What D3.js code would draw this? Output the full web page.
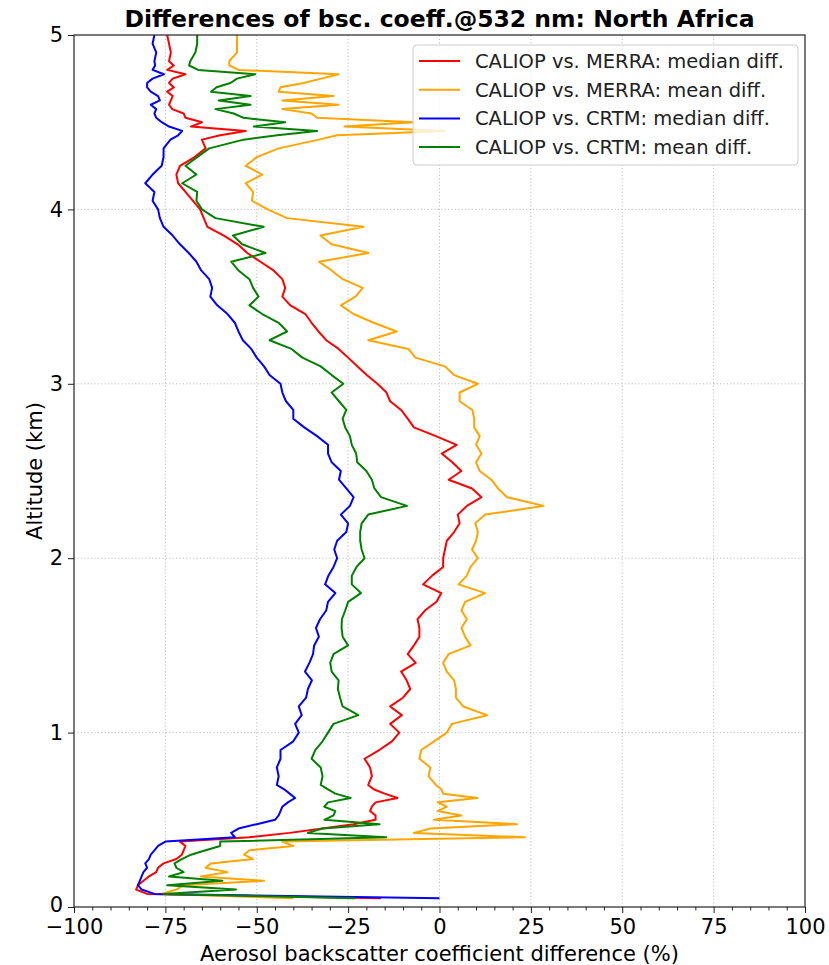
<!DOCTYPE html>
<html><head><meta charset="utf-8">
<script src="https://cdn.jsdelivr.net/npm/d3@7"></script>
<style>body{margin:0;background:#fff} text{font-family:"DejaVu Sans",sans-serif}</style>
</head><body><svg id="chart" width="829" height="965"></svg>
<script>
// altitude levels (km)
const altitudes = [
 0.05,0.075,0.1,0.125,0.15,0.175,0.2,0.225,0.25,0.275,
 0.3,0.325,0.35,0.375,0.4,0.425,0.45,0.475,0.5,0.525,
 0.55,0.575,0.6,0.625,0.65,0.675,0.7,
 0.75,0.8,0.85,0.9,0.95,1,1.05,1.1,1.15,1.2,
 1.25,1.3,1.35,1.4,1.45,1.5,1.55,1.6,1.65,1.7,
 1.75,1.8,1.85,1.9,1.95,2,2.05,2.1,2.15,2.2,
 2.25,2.3,2.35,2.4,2.45,2.5,2.55,2.6,2.65,2.7,
 2.75,2.8,2.85,2.9,2.95,3,3.05,3.1,3.15,3.2,
 3.25,3.3,3.35,3.4,3.45,3.5,3.55,3.6,3.65,3.7,
 3.75,3.8,3.85,3.9,3.95,4,4.05,4.1,4.15,4.2,
 4.25,4.3,4.35,4.4,
 4.425,4.45,4.475,4.5,4.525,4.55,4.575,4.6,4.625,4.65,
 4.675,4.7,4.725,4.75,4.775,4.8,4.825,4.85,
 4.9,4.95,5.0];

// CALIOP vs. MERRA: median diff. (%)
const merraMedian = [
 -16,-80,-83,-82.5,-81,-79.5,-77.5,-77,-75.5,-72,
 -70.5,-70,-69.5,-71,-52,-41,-32,-23.5,-17.5,-17.5,
 -19,-18.5,-17.5,-11.5,-15,-18,-19.5,
 -18.5,-19,-20.5,-16.5,-13,-11,-13.5,-10.3,-13.5,-10,
 -8,-9,-10.5,-6.5,-8.7,-7,-5.5,-5.5,-6,-4,
 -0.8,0.5,-4.5,-2,1,1,1.5,2,4,5.5,
 5,7.5,11.5,8.9,2.5,6,3.5,0.6,4.7,-1,
 -7,-8.7,-10.5,-13.5,-14.5,-17,-19.9,-22.5,-25,-27.6,
 -31,-33.1,-35,-36.7,-40.8,-43,-42.2,-43,-45.4,-49,
 -52.6,-55.2,-59,-63.5,-64.5,-65.5,-67.5,-69.5,-71.5,-72,
 -71,-67,-64,-65,
 -60,-53,-68,-65,-69.5,-70,-73.1,-74,-73.5,-73,
 -74.5,-72.7,-74,-73,-69.5,-74.5,-72.7,-74,
 -73.5,-74,-74.5];

// CALIOP vs. MERRA: mean diff. (%)
const merraMean = [
 -40,-76,-72,-70,-48,-65.3,-58,-64,-62.5,-51,
 -53.5,-52,-40,-43,23.4,-7,-2.5,21.2,-1.5,6,
 -0.5,2,-0.5,10.4,1,0.5,-1,
 -3,-2.5,-5.5,-5,-1.5,2,3.4,13,6.5,4.5,
 4.5,4,2,1,2.5,8.5,7,6,7.5,6,
 7,12.5,5.2,7.5,8.5,10.5,8.9,10,10.5,9.8,
 12.5,28.5,18.5,16,14.2,11,10,11.5,10,11,
 9.5,9.5,9,5.5,5.5,10.5,4,1.5,-6.6,-8.5,
 -19.5,-11.7,-18,-23.5,-27,-23,-21,-26.5,-29.5,-33,
 -19.4,-29.5,-32.6,-20.8,-41.7,-47,-51.3,-51,-53,-48.5,
 -53,-50,-44,-33,
 -28,1.5,-26,-7,-33.5,-35,-43,-27.6,-43,-29,
 -44,-43.5,-37.2,-32.4,-27.6,-55,-57.5,-57.5,
 -55.4,-55.4,-55.4];

// CALIOP vs. CRTM: median diff. (%)
const crtmMedian = [
 0,-78,-81.5,-82.5,-82,-81.5,-81,-80,-80.5,-79.5,
 -79,-78,-77,-75,-56,-57,-55,-50,-45,-44,
 -43.5,-43,-41.5,-39.5,-41,-42.5,-44.5,
 -44,-44.5,-43.5,-43.5,-40,-38.5,-39.5,-37.7,-38.5,-36.5,
 -36,-34.9,-36.8,-35.6,-34.6,-34.3,-33,-33.8,-32.7,-31,
 -30.5,-28.5,-31.3,-30.4,-29,-28,-28.8,-28,-25.5,-25,
 -27,-24.5,-23.5,-25.5,-27.5,-27,-29.5,-30.5,-30.5,-33.5,
 -37,-40,-40,-42,-43,-43.5,-46.5,-48,-50,-51.5,
 -53.8,-55,-56,-58,-60.8,-62.7,-62.2,-63,-65.2,-66.5,
 -68.6,-71,-73,-75.5,-76.5,-77,-78.5,-78,-80.5,-78.5,
 -76,-75.5,-75.5,-73.6,
 -71.5,-70.4,-74,-76,-77.5,-78,-77.5,-79,-76.5,-77,
 -79,-80,-80,-78.5,-75.4,-78.5,-77.8,-78,
 -77.5,-78.5,-78];

// CALIOP vs. CRTM: mean diff. (%)
const crtmMean = [
 -23,-75.5,-55.7,-74.5,-59.4,-74,-70,-72,-72.5,-70.5,
 -68,-64,-60,-60,-14.6,-36,-32,-16.4,-31.5,-29,
 -28.5,-31.5,-30.5,-24.3,-28.5,-30.5,-32.5,
 -32,-32.5,-35,-34,-32,-30.5,-29,-22.2,-26.5,-27.2,
 -27.8,-27.6,-29.5,-29.9,-29,-25,-26.5,-26.8,-26.7,-25.8,
 -25,-21.5,-24,-24,-22.7,-20.5,-21.3,-21.7,-21.7,-21.3,
 -19.5,-8.9,-16,-17.8,-18.5,-20,-22.5,-22.8,-24,-24.5,
 -25.8,-26.5,-25.5,-27.5,-29.5,-26.3,-29.5,-32.5,-37.5,-40.5,
 -46.5,-41.7,-44,-48.5,-52,-49.5,-51,-52,-55,-57,
 -47.6,-54,-56.5,-48.1,-61.3,-65,-66.5,-66.3,-70.4,-66.5,
 -69.5,-66.3,-63,-53.6,
 -44.4,-33.5,-50.8,-42.2,-53.6,-56.3,-61.3,-51.7,-60.4,-51.7,
 -62.5,-61,-57.2,-55.4,-50.4,-66,-68.5,-68.2,
 -66.8,-66.3,-66.3];

const seriesLabels = ["CALIOP vs. MERRA: median diff.","CALIOP vs. MERRA: mean diff.","CALIOP vs. CRTM: median diff.","CALIOP vs. CRTM: mean diff."];
const xTicks = [-100,-75,-50,-25,0,25,50,75,100];
const yTicks = [0,1,2,3,4,5];

const seriesValues = [merraMedian, merraMean, crtmMedian, crtmMean];
const colors = ["#ff0000","#ffa500","#0000ff","#008000"];

const W = 829, H = 965;
const m = {left:74, right:24, top:35, bottom:58};
const svg = d3.select("#chart");
const x = d3.scaleLinear().domain([-100,100]).range([m.left, W - m.right]);
const y = d3.scaleLinear().domain([0,5]).range([H - m.bottom, m.top]);
const fmt = d => d < 0 ? "\u2212" + Math.abs(d) : String(d);

// grid
const grid = svg.append("g").attr("stroke","#b0b0b0").attr("stroke-width",0.8).attr("stroke-dasharray","1.2,2.2");
grid.selectAll("line.gx").data(xTicks.slice(1,-1)).join("line")
  .attr("x1", d => x(d)).attr("x2", d => x(d)).attr("y1", y(0)).attr("y2", y(5));
grid.selectAll("line.gy").data(yTicks.slice(1,-1)).join("line")
  .attr("y1", d => y(d)).attr("y2", d => y(d)).attr("x1", x(-100)).attr("x2", x(100));

// lines
const plot = svg.append("g");
seriesValues.forEach((vals, i) => {
  const pts = altitudes.map((a, k) => ({a, v: vals[k]}));
  plot.append("path").datum(pts)
    .attr("fill","none").attr("stroke", colors[i]).attr("stroke-width",2)
    .attr("stroke-linejoin","round")
    .attr("d", d3.line().x(d => x(d.v)).y(d => y(d.a)));
});

// frame
svg.append("rect").attr("x", x(-100)).attr("y", y(5)).attr("width", x(100)-x(-100)).attr("height", y(0)-y(5))
  .attr("fill","none").attr("stroke","#222").attr("stroke-width",1.2);

// axes
const xAxis = svg.append("g").attr("transform",`translate(0,${y(0)})`)
  .call(d3.axisBottom(x).tickValues(xTicks).tickFormat(fmt).tickSize(6).tickPadding(6).tickSizeOuter(0));
const xMinor = svg.append("g").attr("transform",`translate(0,${y(0)})`)
  .call(d3.axisBottom(x).tickValues(d3.range(-100,101,5).filter(v => v % 25 !== 0)).tickFormat("").tickSize(3.5).tickSizeOuter(0));
const yAxis = svg.append("g").attr("transform",`translate(${x(-100)},0)`)
  .call(d3.axisLeft(y).tickValues(yTicks).tickFormat(fmt).tickSize(6).tickPadding(5).tickSizeOuter(0));
[xAxis, xMinor, yAxis].forEach(g => {
  g.select(".domain").remove();
  g.selectAll("line").attr("stroke","#222").attr("stroke-width",1);
  g.selectAll("text").attr("font-size",21).attr("fill","#000").attr("font-family","DejaVu Sans");
});
yAxis.selectAll(".tick text").filter(d => d === 0).attr("dy","0.2em");

// labels
svg.append("text").attr("x", (x(-100)+x(100))/2).attr("y", 961).attr("text-anchor","middle")
  .attr("font-size",21).text("Aerosol backscatter coefficient difference (%)");
svg.append("text").attr("transform",`translate(42,${(y(0)+y(5))/2}) rotate(-90)`).attr("text-anchor","middle")
  .attr("font-size",21).text("Altitude (km)");
svg.append("text").attr("x", (x(-100)+x(100))/2).attr("y", 27).attr("text-anchor","middle")
  .attr("font-size",23.5).attr("font-weight","bold").text("Differences of bsc. coeff.@532 nm: North Africa");

// legend
const lg = svg.append("g");
lg.append("rect").attr("x",413).attr("y",45).attr("width",385).attr("height",120).attr("rx",4)
  .attr("fill","#fff").attr("fill-opacity",0.8).attr("stroke","#cccccc").attr("stroke-width",1);
seriesLabels.forEach((lab, i) => {
  const yy = 61 + i*28.7;
  lg.append("line").attr("x1",419).attr("x2",460).attr("y1",yy).attr("y2",yy).attr("stroke",colors[i]).attr("stroke-width",2);
  lg.append("text").attr("x",475).attr("y",yy).attr("dy","0.35em").attr("font-size",19.5).attr("fill","#222").text(lab);
});
</script></body></html>
